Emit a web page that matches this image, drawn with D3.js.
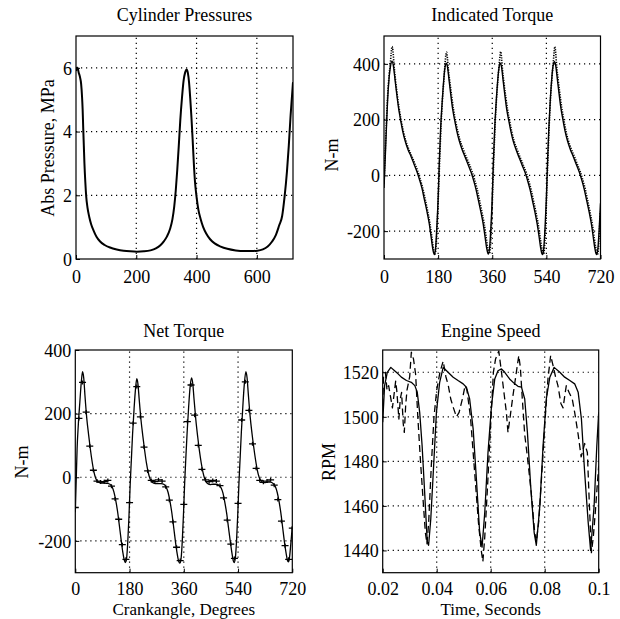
<!DOCTYPE html>
<html><head><meta charset="utf-8">
<script src="https://cdn.jsdelivr.net/npm/d3@7/dist/d3.min.js"></script>
<style>
body{margin:0;background:#fff}
svg{display:block;background:#fff}
text{font-family:"Liberation Serif","Times New Roman",serif;fill:#000}
</style>
</head><body>
<svg id="chart" width="620" height="619"></svg>
<script>
// ---------------- DATA ----------------
// Panel 1: cylinder pressure (crank angle deg, MPa)
const pressure = [[0,5.9],[2,6.0],[5,6.0],[9,5.85],[13,5.72],[17,5.5],[20,5.1],[22,4.7],[24,4.1],[26,3.55],[28,3.0],[31,2.4],[34,1.95],[38,1.62],[44,1.32],[50,1.1],[58,0.9],[68,0.7],[80,0.55],[95,0.44],[113,0.36],[135,0.3],[158,0.26],[180,0.24],[202,0.23],[225,0.24],[247,0.27],[265,0.33],[280,0.43],[292,0.56],[302,0.71],[312,0.94],[320,1.25],[326,1.65],[331,2.15],[336,2.8],[341,3.55],[346,4.35],[352,5.1],[357,5.6],[362,5.85],[367,5.95],[371,5.85],[375,5.55],[379,5.05],[383,4.45],[387,3.75],[391,3.0],[395,2.4],[400,1.95],[406,1.55],[413,1.27],[422,1.0],[432,0.8],[445,0.62],[460,0.49],[480,0.39],[502,0.32],[530,0.27],[558,0.25],[580,0.25],[602,0.26],[620,0.3],[636,0.39],[650,0.54],[663,0.75],[674,1.05],[684,1.35],[692,1.95],[700,2.75],[706,3.55],[712,4.5],[717,5.15],[720,5.55]];

// Panel 2: indicated torque (deg, N-m) — model (solid) and measured (dotted)
const indicatedModel = [[0,-45],[4,60],[8,170],[12,270],[17,350],[22,395],[27,410],[31,395],[36,350],[42,295],[48,245],[55,200],[62,160],[70,125],[80,92],[90,68],[100,40],[110,12],[118,-15],[126,-45],[134,-85],[142,-125],[150,-170],[156,-215],[161,-255],[165,-278],[168,-284],[172,-255],[176,-180],
[180,-85],[184,50],[188,160],[192,240],[197,320],[202,380],[207,402],[211,390],[216,345],[222,290],[228,240],[235,198],[242,160],[250,125],[260,92],[270,65],[280,38],[290,10],[298,-18],[306,-50],[314,-90],[322,-130],[330,-175],[336,-220],[341,-258],[345,-278],[348,-282],[352,-250],[356,-175],
[360,-80],[364,55],[368,165],[372,245],[377,325],[382,382],[387,402],[391,388],[396,342],[402,288],[408,238],[415,196],[422,158],[430,122],[440,90],[450,62],[460,35],[470,8],[478,-20],[486,-52],[494,-92],[502,-132],[510,-178],[516,-222],[521,-260],[525,-280],[528,-284],[532,-252],[536,-178],
[540,-82],[544,52],[548,165],[552,250],[557,335],[562,392],[567,408],[571,395],[576,350],[582,295],[588,244],[595,200],[602,160],[610,125],[620,92],[630,66],[640,38],[650,10],[658,-18],[666,-50],[674,-90],[682,-130],[690,-176],[696,-222],[701,-260],[705,-280],[708,-284],[712,-255],[716,-185],[720,-100]];
const indicatedMeasured = [[0,-30],[4,80],[8,190],[12,285],[17,360],[21,400],[24,440],[27,462],[30,445],[33,400],[38,345],[44,290],[50,243],[57,198],[64,160],[72,126],[82,95],[92,70],[102,44],[112,16],[120,-12],[128,-42],[136,-80],[144,-122],[152,-168],[158,-212],[163,-252],[167,-276],[170,-282],[174,-240],[178,-150],
[182,-40],[186,80],[190,185],[194,265],[199,340],[203,400],[206,435],[208,442],[211,420],[214,380],[219,335],[225,285],[231,238],[238,196],[245,160],[253,126],[263,95],[273,68],[283,42],[293,14],[301,-14],[309,-46],[317,-86],[325,-128],[333,-172],[339,-216],[344,-254],[348,-276],[351,-280],[355,-235],[359,-140],
[362,-35],[366,85],[370,190],[374,270],[379,345],[383,398],[386,430],[388,444],[391,422],[394,380],[399,332],[405,282],[411,236],[418,194],[425,156],[433,122],[443,92],[453,64],[463,38],[473,10],[481,-18],[489,-50],[497,-90],[505,-130],[513,-176],[519,-220],[524,-256],[528,-278],[531,-282],[535,-238],[539,-140],
[542,-35],[546,85],[550,195],[554,280],[559,355],[563,405],[566,445],[568,462],[571,440],[574,395],[579,345],[585,292],[591,244],[598,200],[605,160],[613,125],[623,94],[633,68],[643,40],[653,12],[661,-16],[669,-48],[677,-88],[685,-130],[693,-176],[699,-222],[704,-258],[708,-280],[711,-282],[715,-230],[719,-130]];

// Panel 3: net torque (deg, N-m) — model (solid) and measured (+ markers)
const netModel = [[0,-110],[3,-10],[6,90],[10,165],[15,235],[20,300],[24,332],[28,312],[32,258],[38,186],[44,135],[50,88],[56,48],[62,16],[68,-4],[75,-14],[85,-18],[95,-18],[105,-19],[115,-22],[122,-30],[128,-46],[134,-72],[140,-106],[146,-150],[152,-196],[158,-238],[163,-262],[166,-268],[170,-256],[174,-205],[178,-125],
[182,-25],[186,55],[190,135],[195,215],[200,280],[204,310],[208,292],[212,245],[218,180],[224,130],[230,85],[236,45],[242,15],[248,-5],[255,-16],[265,-20],[275,-20],[285,-20],[295,-23],[302,-32],[308,-48],[314,-75],[320,-110],[326,-154],[332,-200],[338,-240],[343,-264],[347,-270],[351,-255],[355,-200],[359,-115],
[363,-15],[367,65],[371,140],[376,220],[381,285],[386,312],[390,292],[394,245],[400,180],[406,128],[412,82],[418,44],[424,14],[430,-6],[437,-18],[447,-23],[457,-22],[467,-22],[477,-25],[484,-34],[490,-50],[496,-78],[502,-112],[508,-156],[514,-200],[520,-240],[524,-262],[527,-268],[531,-254],[535,-200],[539,-118],
[543,-18],[547,62],[551,142],[556,225],[561,295],[566,332],[570,312],[574,262],[580,192],[586,140],[592,95],[598,55],[604,22],[610,0],[617,-12],[627,-17],[637,-16],[647,-15],[657,-20],[664,-30],[670,-48],[676,-76],[682,-112],[688,-158],[694,-204],[700,-242],[704,-262],[707,-266],[711,-250],[715,-210],[720,-155]];
const netMeasured = [[0,-95],[12,185],[24,298],[36,205],[48,98],[60,22],[72,-12],[84,-15],[96,-14],[108,-10],[120,-28],[132,-68],[144,-132],[156,-212],[168,-258],
[180,-80],[192,170],[204,285],[216,190],[228,95],[240,20],[252,-10],[264,-14],[276,-8],[288,-12],[300,-30],[312,-72],[324,-140],[336,-220],[348,-262],
[360,-85],[372,175],[384,290],[396,195],[408,100],[420,25],[432,-8],[444,-14],[456,-10],[468,-12],[480,-26],[492,-65],[504,-135],[516,-210],[528,-255],
[540,-82],[552,180],[564,300],[576,210],[588,105],[600,28],[612,-10],[624,-16],[636,-12],[648,-8],[660,-25],[672,-70],[684,-138],[696,-215],[708,-258],[720,-160]];

// Panel 4: engine speed (s, RPM) — model (solid) and measured (dashed)
const speedModel = [[0.0200,1497.6],[0.0207,1514],[0.0217,1520],[0.0230,1522.2],[0.0244,1520.7],[0.0257,1519.3],[0.0269,1517.8],[0.0288,1516.3],[0.0306,1515.5],[0.0319,1514],[0.0328,1511],[0.0337,1502],[0.0346,1487],[0.0356,1464.7],[0.0365,1443.8],[0.0370,1442.3],[0.0378,1454],[0.0386,1472],[0.0399,1502],[0.0411,1515.5],[0.0424,1522.2],[0.0442,1520],[0.0461,1517.8],[0.0479,1516.3],[0.0498,1514.8],[0.0510,1513.3],[0.0522,1508],[0.0535,1494.6],[0.0547,1472],[0.0559,1448.3],[0.0568,1441.5],[0.0578,1457],[0.0590,1484],[0.0603,1505],[0.0615,1517],[0.0627,1520.7],[0.0640,1521.5],[0.0652,1520],[0.0670,1517],[0.0689,1514.8],[0.0701,1513.7],[0.0714,1513.3],[0.0726,1508],[0.0736,1493],[0.0748,1469],[0.0761,1448],[0.0769,1442.3],[0.0782,1460],[0.0794,1487],[0.0806,1508],[0.0819,1517.8],[0.0835,1522.2],[0.0856,1520],[0.0874,1517.8],[0.0893,1516.3],[0.0911,1514.8],[0.0924,1511],[0.0936,1499],[0.0948,1475],[0.0961,1452.7],[0.0970,1440],[0.0983,1460],[0.0993,1487],[0.1000,1502]];
const speedMeasured = [[0.0200,1505],[0.0203,1518],[0.0210,1520],[0.0216,1512],[0.0222,1514],[0.0236,1504],[0.0242,1510],[0.0248,1516],[0.0252,1512],[0.0260,1499],[0.0265,1508],[0.0270,1511],[0.0276,1497],[0.0280,1493],[0.0285,1505],[0.0290,1512],[0.0300,1518],[0.0306,1529],[0.0314,1526],[0.0322,1519],[0.0330,1500],[0.0340,1480],[0.0350,1462],[0.0358,1448],[0.0364,1443],[0.0370,1452],[0.0380,1478],[0.0390,1500],[0.0400,1512],[0.0412,1520],[0.0424,1525],[0.0434,1518],[0.0443,1514],[0.0452,1508],[0.0462,1504],[0.0473,1500],[0.0483,1502],[0.0497,1509],[0.0505,1514],[0.0512,1512],[0.0525,1500],[0.0535,1484],[0.0545,1468],[0.0555,1452],[0.0565,1440],[0.0571,1435],[0.0578,1446],[0.0588,1468],[0.0598,1492],[0.0604,1506],[0.0610,1520],[0.0618,1526],[0.0630,1529.5],[0.0640,1520],[0.0650,1510],[0.0658,1502],[0.0664,1493],[0.0672,1500],[0.0683,1510],[0.0695,1520],[0.0704,1527.5],[0.0710,1522],[0.0716,1510],[0.0726,1492],[0.0736,1482],[0.0750,1466],[0.0763,1448],[0.0769,1444],[0.0778,1453],[0.0788,1472],[0.0800,1496],[0.0812,1517],[0.0822,1527.5],[0.0831,1523],[0.0840,1518],[0.0849,1514],[0.0860,1506],[0.0868,1504],[0.0875,1510],[0.0880,1514],[0.0890,1511],[0.0902,1508],[0.0911,1502],[0.0924,1492],[0.0935,1482],[0.0948,1488],[0.0958,1484],[0.0965,1462],[0.0973,1439],[0.0980,1446],[0.0988,1458],[0.0995,1470],[0.1000,1478]];

// Tick labels
const degTicks = [0,180,360,540,720];
const pressureXTicks = [0,200,400,600];
const pressureYTicks = [0,2,4,6];
const indicatedYTicks = [-200,0,200,400];
const netYTicks = [-200,0,200,400];
const speedXTicks = [0.02,0.04,0.06,0.08,0.1];
const speedYTicks = [1440,1460,1480,1500,1520];
const titles = ["Cylinder Pressures","Indicated Torque","Net Torque","Engine Speed"];

// ---------------- DRAW ----------------
const svg = d3.select("#chart");
const FS = 18;

const panels = [
  {title:titles[0], box:[76,36,293,259], xd:[0,720], yd:[0,7], xt:pressureXTicks, yt:pressureYTicks,
   ylabel:"Abs Pressure, MPa", ylx:54, yly:148, titleY:21, xtY:283,
   series:[{data:pressure, type:"line", w:2.0, curve:d3.curveMonotoneX}]},
  {title:titles[1], box:[384,36,600.5,259], xd:[0,720], yd:[-300,500], xt:degTicks, yt:indicatedYTicks,
   ylabel:"N-m", ylx:338, yly:155, titleY:21, xtY:283,
   series:[{data:indicatedModel, type:"line", w:1.4, curve:d3.curveMonotoneX},
           {data:indicatedMeasured, type:"line", w:1.6, dash:"1.2,1.3", curve:d3.curveMonotoneX}]},
  {title:titles[2], box:[75.3,350,292.3,572.7], xd:[0,720], yd:[-300,400], xt:degTicks, yt:netYTicks,
   ylabel:"N-m", ylx:28, yly:462, titleY:337, xtY:595, xlabel:"Crankangle, Degrees", xlY:615,
   series:[{data:netModel, type:"line", w:1.3, curve:d3.curveMonotoneX},
           {data:netMeasured, type:"plus"}]},
  {title:titles[3], box:[382.7,350,598.7,572.7], xd:[0.02,0.1], yd:[1430,1530], xt:speedXTicks, yt:speedYTicks,
   ylabel:"RPM", ylx:335, yly:462, titleY:337, xtY:595, xlabel:"Time, Seconds", xlY:615,
   series:[{data:speedModel, type:"line", w:1.3, curve:d3.curveLinear},
           {data:speedMeasured, type:"line", w:1.3, dash:"7,4", curve:d3.curveLinear}]}
];

panels.forEach((p,i) => {
  const [l,t,r,b] = p.box;
  const x = d3.scaleLinear().domain(p.xd).range([l,r]);
  const y = d3.scaleLinear().domain(p.yd).range([b,t]);
  const g = svg.append("g");
  const clipId = "clip"+i;
  svg.append("clipPath").attr("id",clipId).append("rect")
     .attr("x",l).attr("y",t).attr("width",r-l).attr("height",b-t);

  // grid (dotted)
  const grid = g.append("g").attr("stroke","#000").attr("stroke-width",1.2).attr("stroke-dasharray","1.2,3.8");
  p.xt.forEach(v => { const xv = x(v); if (xv>l+1 && xv<r-1) grid.append("line").attr("x1",xv).attr("x2",xv).attr("y1",b).attr("y2",t); });
  p.yt.forEach(v => { const yv = y(v); if (yv>t+1 && yv<b-1) grid.append("line").attr("x1",l).attr("x2",r).attr("y1",yv).attr("y2",yv); });

  // axes
  const xa = g.append("g").attr("transform",`translate(0,${b})`)
    .call(d3.axisBottom(x).tickValues(p.xt).tickSizeInner(-4).tickSizeOuter(0).tickFormat(v => String(v)));
  const ya = g.append("g").attr("transform",`translate(${l},0)`)
    .call(d3.axisLeft(y).tickValues(p.yt).tickSizeInner(-4).tickSizeOuter(0).tickFormat(v => String(v)));
  [xa,ya].forEach(a => { a.select(".domain").remove(); a.selectAll("line").attr("stroke","#000");
    a.selectAll("text").attr("font-family",'"Liberation Serif", serif').attr("font-size",FS).attr("fill","#000"); });
  xa.selectAll("text").attr("dy",null).attr("y", p.xtY - b);
  ya.selectAll("text").attr("x",-4).attr("dy","0.35em");

  // series
  const sg = g.append("g").attr("clip-path",`url(#${clipId})`);
  p.series.forEach(s => {
    if (s.type === "line") {
      const line = d3.line().x(d=>x(d[0])).y(d=>y(d[1])).curve(s.curve);
      sg.append("path").datum(s.data).attr("d",line).attr("fill","none")
        .attr("stroke","#000").attr("stroke-width",s.w)
        .attr("stroke-dasharray",s.dash||null).attr("stroke-linejoin","round");
    } else if (s.type === "plus") {
      const pg = sg.append("g").attr("stroke","#000").attr("stroke-width",1.3);
      s.data.forEach(d => {
        const cx = x(d[0]), cy = y(d[1]);
        pg.append("line").attr("x1",cx-3.5).attr("x2",cx+3.5).attr("y1",cy).attr("y2",cy);
        pg.append("line").attr("x1",cx).attr("x2",cx).attr("y1",cy-2).attr("y2",cy+2);
      });
    }
  });

  // frame
  g.append("rect").attr("x",l).attr("y",t).attr("width",r-l).attr("height",b-t)
    .attr("fill","none").attr("stroke","#000").attr("stroke-width",1.2);

  // title & labels
  g.append("text").attr("x",(l+r)/2).attr("y",p.titleY).attr("text-anchor","middle")
    .attr("font-size",FS).text(p.title);
  g.append("text").attr("transform",`translate(${p.ylx},${p.yly}) rotate(-90)`)
    .attr("text-anchor","middle").attr("font-size",FS).text(p.ylabel);
  if (p.xlabel) g.append("text").attr("x",(l+r)/2).attr("y",p.xlY).attr("text-anchor","middle")
    .attr("font-size",17).text(p.xlabel);
});
</script>
</body></html>
